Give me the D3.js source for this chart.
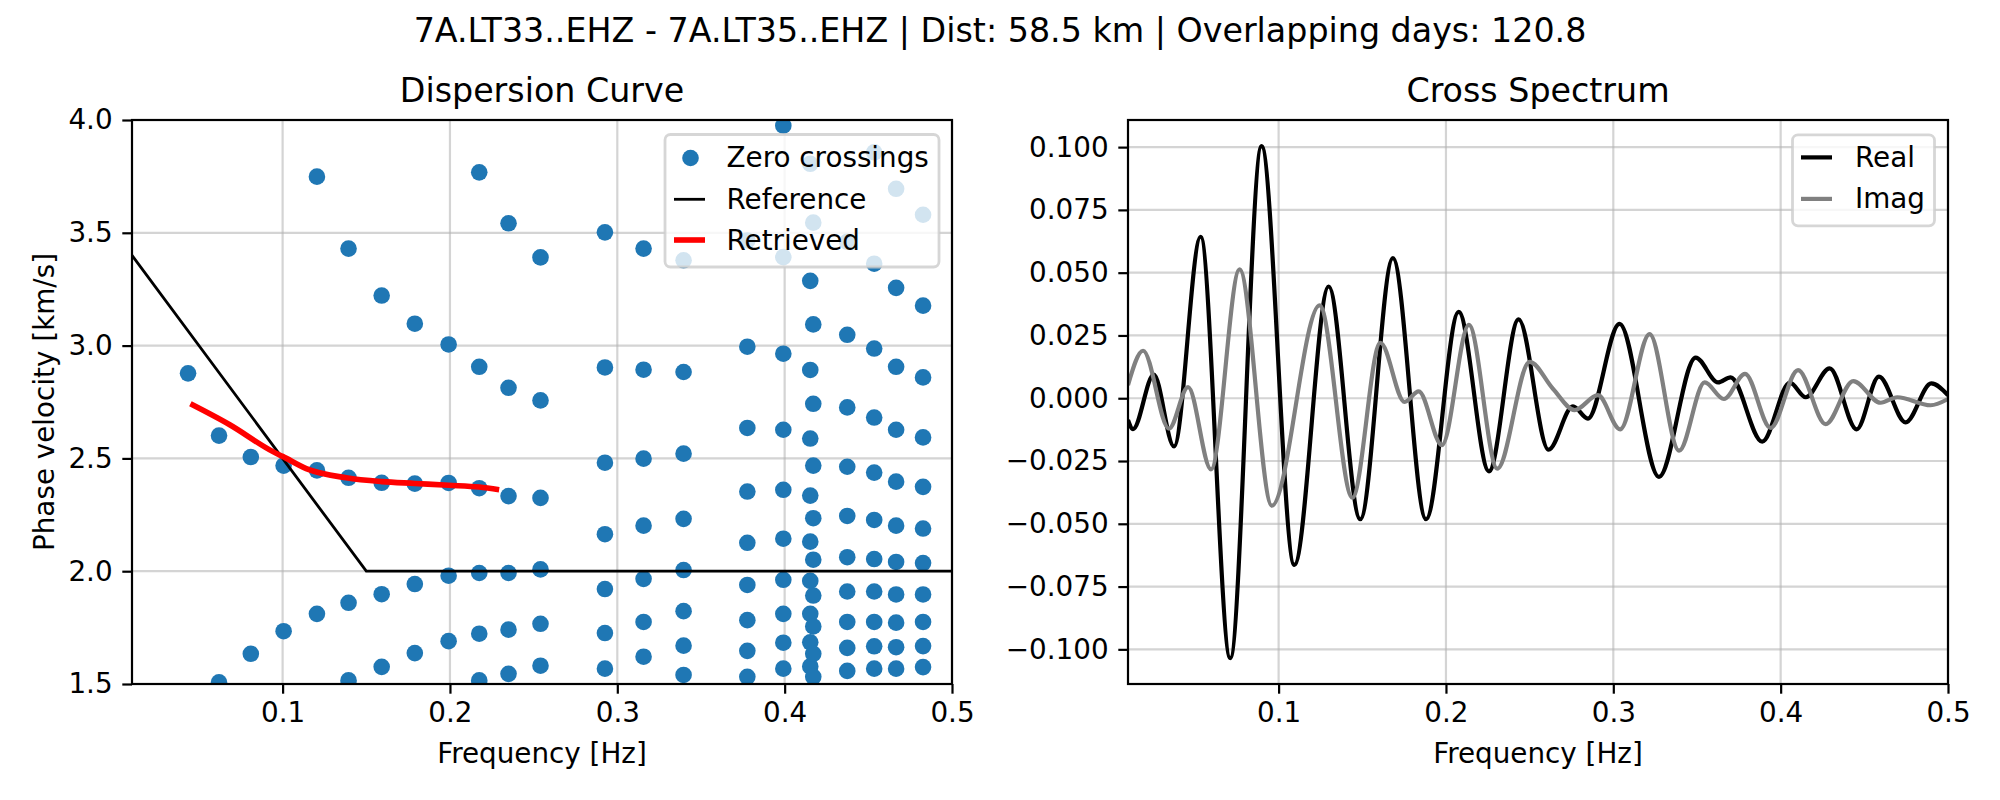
<!DOCTYPE html>
<html><head><meta charset="utf-8">
<script src="https://cdn.jsdelivr.net/npm/d3@7"></script>
<style>body{margin:0;background:#fff}</style>
</head><body>
<svg id="c" width="2000" height="800" xmlns="http://www.w3.org/2000/svg"></svg>
<script>
// ---------- DATA ----------
const suptitle = "7A.LT33..EHZ - 7A.LT35..EHZ | Dist: 58.5 km | Overlapping days: 120.8";
const leftTitle = "Dispersion Curve";
const rightTitle = "Cross Spectrum";
const xTicks = [0.1, 0.2, 0.3, 0.4, 0.5];
const leftYTicks = [1.5, 2.0, 2.5, 3.0, 3.5, 4.0];
const rightYTicks = [-0.100, -0.075, -0.050, -0.025, 0.000, 0.025, 0.050, 0.075, 0.100];

// zero crossings: column frequencies and the phase velocities found at each
const zcFreq = [0.0435, 0.062, 0.081, 0.1006, 0.1205, 0.1394, 0.1592, 0.179, 0.1992, 0.2175, 0.235, 0.2541,
  0.2926, 0.3157, 0.3396, 0.3777, 0.3992, 0.4153, 0.4171, 0.4374, 0.4535, 0.4666, 0.4827];
const zcVel = [
  [2.877],
  [2.601, 1.507],
  [2.506, 1.634],
  [2.468, 1.734],
  [3.749, 2.447, 1.811],
  [3.430, 2.414, 1.860, 1.516],
  [3.222, 2.392, 1.898, 1.576],
  [3.097, 2.388, 1.943, 1.637],
  [3.005, 2.391, 1.980, 1.690],
  [3.768, 2.906, 2.368, 1.992, 1.723, 1.516],
  [3.542, 2.813, 2.333, 1.992, 1.741, 1.545],
  [3.391, 2.757, 2.325, 2.008, 1.767, 1.581],
  [3.502, 2.903, 2.481, 2.164, 1.921, 1.726, 1.568],
  [3.430, 2.893, 2.499, 2.202, 1.966, 1.775, 1.621],
  [3.378, 2.883, 2.521, 2.232, 2.005, 1.823, 1.670, 1.540],
  [3.466, 2.995, 2.635, 2.353, 2.126, 1.939, 1.783, 1.647, 1.532],
  [3.975, 3.392, 2.964, 2.627, 2.361, 2.144, 1.962, 1.811, 1.683, 1.568],
  [3.806, 3.287, 2.892, 2.588, 2.335, 2.131, 1.957, 1.811, 1.685, 1.578],
  [3.545, 3.094, 2.742, 2.468, 2.235, 2.051, 1.892, 1.755, 1.634, 1.532],
  [3.46, 3.048, 2.726, 2.463, 2.245, 2.062, 1.910, 1.775, 1.660, 1.558],
  [3.857, 3.363, 2.987, 2.681, 2.437, 2.227, 2.054, 1.910, 1.775, 1.667, 1.568],
  [3.695, 3.256, 2.906, 2.627, 2.397, 2.202, 2.041, 1.897, 1.772, 1.663, 1.568],
  [3.580, 3.177, 2.859, 2.593, 2.374, 2.189, 2.036, 1.897, 1.775, 1.668, 1.575]
];

// reference dispersion curve
const refFreq = [0.01, 0.15, 0.5];
const refVel = [3.40, 2.00, 2.00];

// retrieved dispersion curve
const retFreq = [0.0449, 0.0684, 0.0942, 0.1, 0.1141, 0.138, 0.1592, 0.179, 0.1992, 0.2175, 0.2294];
const retVel = [2.742, 2.649, 2.530, 2.509, 2.455, 2.414, 2.397, 2.389, 2.381, 2.373, 2.361];

// cross spectrum, real part
const realFreq = [0.01, 0.013, 0.0254, 0.0375, 0.0534, 0.0711, 0.0898, 0.1094, 0.1299, 0.1488, 0.1683, 0.1881,
  0.2076, 0.2257, 0.2434, 0.2613, 0.2759, 0.2848, 0.3037, 0.3273, 0.3492, 0.3626, 0.3701, 0.389, 0.4055, 0.415,
  0.4293, 0.4454, 0.4587, 0.4747, 0.49, 0.5];
const realVal = [-0.0087, -0.0123, 0.0094, -0.0192, 0.0643, -0.1035, 0.1004, -0.0664, 0.0445, -0.0482, 0.0558, -0.0482,
  0.0344, -0.0291, 0.0314, -0.0205, -0.0032, -0.0081, 0.0296, -0.0313, 0.0162, 0.0063, 0.0083, -0.0173, 0.0062, 0.0004,
  0.0119, -0.0124, 0.0086, -0.0096, 0.0059, 0.0012];

// cross spectrum, imaginary part
const imagFreq = [0.01, 0.019, 0.0345, 0.0459, 0.0596, 0.0767, 0.096, 0.1245, 0.1441, 0.1608, 0.1753, 0.1837,
  0.1976, 0.2137, 0.2307, 0.25, 0.2639, 0.2769, 0.2908, 0.3041, 0.3217, 0.3393, 0.3546, 0.3661, 0.3787, 0.394,
  0.4104, 0.4269, 0.4434, 0.4597, 0.4697, 0.4896, 0.5];
const imagVal = [0.0052, 0.0189, -0.0121, 0.0044, -0.0283, 0.0513, -0.0428, 0.0370, -0.0396, 0.0221, -0.0015, 0.0027,
  -0.0187, 0.0292, -0.0280, 0.0145, 0.0038, -0.0047, 0.0012, -0.0124, 0.0255, -0.0209, 0.0063, -0.0003, 0.0097, -0.0118,
  0.0112, -0.0103, 0.0068, -0.0018, 0.0004, -0.0028, -0.0003];

// ---------- DRAWING ----------
const FONT = "DejaVu Sans";
const svg = d3.select("#c");
const topY = 120, bottomY = 684;
const gridCol = "#b0b0b0";

const xL = d3.scaleLinear().domain([0.01, 0.5]).range([132, 952]);
const yL = d3.scaleLinear().domain([1.5, 4.0]).range([bottomY, topY]);
const xR = d3.scaleLinear().domain([0.01, 0.5]).range([1128, 1948]);
const yR = d3.scaleLinear().domain([-0.1138, 0.1108]).range([bottomY, topY]);

svg.append("text").attr("x", 1000).attr("y", 42).attr("text-anchor", "middle")
  .attr("font-family", FONT).attr("font-size", 33.3).text(suptitle);

const defs = svg.append("defs");
function clip(id, x, y) {
  defs.append("clipPath").attr("id", id).append("rect")
    .attr("x", x.range()[0]).attr("y", y.range()[1])
    .attr("width", x.range()[1] - x.range()[0]).attr("height", y.range()[0] - y.range()[1]);
}
clip("clipL", xL, yL); clip("clipR", xR, yR);

function grid(g, x, y, xt, yt) {
  const gg = g.append("g").attr("stroke", gridCol).attr("stroke-opacity", 0.55).attr("stroke-width", 2.2);
  gg.selectAll(".gx").data(xt).join("line").attr("class", "gx")
    .attr("x1", d => x(d)).attr("x2", d => x(d)).attr("y1", y.range()[0]).attr("y2", y.range()[1]);
  gg.selectAll(".gy").data(yt).join("line").attr("class", "gy")
    .attr("y1", d => y(d)).attr("y2", d => y(d)).attr("x1", x.range()[0]).attr("x2", x.range()[1]);
}

function frame(g, x, y, yFmt, title, xlabel, ylabel) {
  const x0 = x.range()[0], x1 = x.range()[1];
  g.append("rect").attr("x", x0).attr("y", topY).attr("width", x1 - x0).attr("height", bottomY - topY)
    .attr("fill", "none").attr("stroke", "#000").attr("stroke-width", 2.2);
  const ax = g.append("g").attr("transform", `translate(0,${bottomY})`)
    .call(d3.axisBottom(x).tickValues(xTicks).tickSize(9.7).tickPadding(9).tickFormat(d3.format(".1f")));
  const ay = g.append("g").attr("transform", `translate(${x0},0)`)
    .call(d3.axisLeft(y).tickValues(yFmt.ticks).tickSize(9.7).tickPadding(9.7).tickFormat(yFmt.f));
  [ax, ay].forEach(a => {
    a.select(".domain").remove();
    a.selectAll("line").attr("stroke", "#000").attr("stroke-width", 2.2);
    a.selectAll("text").attr("font-family", FONT).attr("font-size", 27.8).attr("fill", "#000");
  });
  g.append("text").attr("x", (x0 + x1) / 2).attr("y", 101.5).attr("text-anchor", "middle")
    .attr("font-family", FONT).attr("font-size", 33.3).text(title);
  g.append("text").attr("x", (x0 + x1) / 2).attr("y", 763).attr("text-anchor", "middle")
    .attr("font-family", FONT).attr("font-size", 27.8).text(xlabel);
  if (ylabel) {
    g.append("text").attr("transform", `translate(54,${(topY + bottomY) / 2}) rotate(-90)`)
      .attr("text-anchor", "middle").attr("font-family", FONT).attr("font-size", 27.8).text(ylabel);
  }
}

// ---- Left panel ----
const gL = svg.append("g");
grid(gL, xL, yL, xTicks, leftYTicks);
const dL = gL.append("g").attr("clip-path", "url(#clipL)");
const pts = [];
zcFreq.forEach((f, i) => zcVel[i].forEach(v => pts.push([f, v])));
dL.selectAll("circle").data(pts).join("circle")
  .attr("cx", d => xL(d[0])).attr("cy", d => yL(d[1])).attr("r", 8.3).attr("fill", "#1f77b4");
dL.append("path").datum(refFreq.map((f, i) => [f, refVel[i]]))
  .attr("d", d3.line().x(d => xL(d[0])).y(d => yL(d[1])))
  .attr("fill", "none").attr("stroke", "#000").attr("stroke-width", 2.8);
dL.append("path").datum(retFreq.map((f, i) => [f, retVel[i]]))
  .attr("d", d3.line().curve(d3.curveMonotoneX).x(d => xL(d[0])).y(d => yL(d[1])))
  .attr("fill", "none").attr("stroke", "#ff0000").attr("stroke-width", 5.6);
frame(gL, xL, yL, { ticks: leftYTicks, f: d3.format(".1f") }, leftTitle, "Frequency [Hz]", "Phase velocity [km/s]");

// left legend
const lgL = gL.append("g");
lgL.append("rect").attr("x", 665).attr("y", 134.5).attr("width", 274).attr("height", 132.5).attr("rx", 5.5)
  .attr("fill", "#fff").attr("fill-opacity", 0.8).attr("stroke", "#cccccc").attr("stroke-opacity", 0.8).attr("stroke-width", 2.8);
lgL.append("circle").attr("cx", 690.5).attr("cy", 158).attr("r", 8.3).attr("fill", "#1f77b4");
lgL.append("line").attr("x1", 674).attr("x2", 705).attr("y1", 199.3).attr("y2", 199.3).attr("stroke", "#000").attr("stroke-width", 2.8);
lgL.append("line").attr("x1", 674).attr("x2", 705).attr("y1", 240).attr("y2", 240).attr("stroke", "#ff0000").attr("stroke-width", 5.6);
[["Zero crossings", 166.7], ["Reference", 208.5], ["Retrieved", 250]].forEach(([t, yy]) =>
  lgL.append("text").attr("x", 726.5).attr("y", yy).attr("font-family", FONT).attr("font-size", 27.8).text(t));

// ---- Right panel ----
const gR = svg.append("g");
grid(gR, xR, yR, xTicks, rightYTicks);
const dR = gR.append("g").attr("clip-path", "url(#clipR)");
const lineR = d3.line().curve(d3.curveMonotoneX).x(d => xR(d[0])).y(d => yR(d[1]));
dR.append("path").datum(realFreq.map((f, i) => [f, realVal[i]])).attr("d", lineR)
  .attr("fill", "none").attr("stroke", "#000").attr("stroke-width", 4.2).attr("stroke-linejoin", "round");
dR.append("path").datum(imagFreq.map((f, i) => [f, imagVal[i]])).attr("d", lineR)
  .attr("fill", "none").attr("stroke", "#808080").attr("stroke-width", 4.2).attr("stroke-linejoin", "round");
frame(gR, xR, yR, { ticks: rightYTicks, f: d3.format(".3f") }, rightTitle, "Frequency [Hz]", null);

const lgR = gR.append("g");
lgR.append("rect").attr("x", 1792.5).attr("y", 134.8).attr("width", 142).attr("height", 91).attr("rx", 5.5)
  .attr("fill", "#fff").attr("fill-opacity", 0.8).attr("stroke", "#cccccc").attr("stroke-opacity", 0.8).attr("stroke-width", 2.8);
lgR.append("line").attr("x1", 1801).attr("x2", 1832).attr("y1", 157.4).attr("y2", 157.4).attr("stroke", "#000").attr("stroke-width", 4.2);
lgR.append("line").attr("x1", 1801).attr("x2", 1832).attr("y1", 198.9).attr("y2", 198.9).attr("stroke", "#808080").attr("stroke-width", 4.2);
[["Real", 166.7], ["Imag", 208.3]].forEach(([t, yy]) =>
  lgR.append("text").attr("x", 1855).attr("y", yy).attr("font-family", FONT).attr("font-size", 27.8).text(t));
</script>
</body></html>
